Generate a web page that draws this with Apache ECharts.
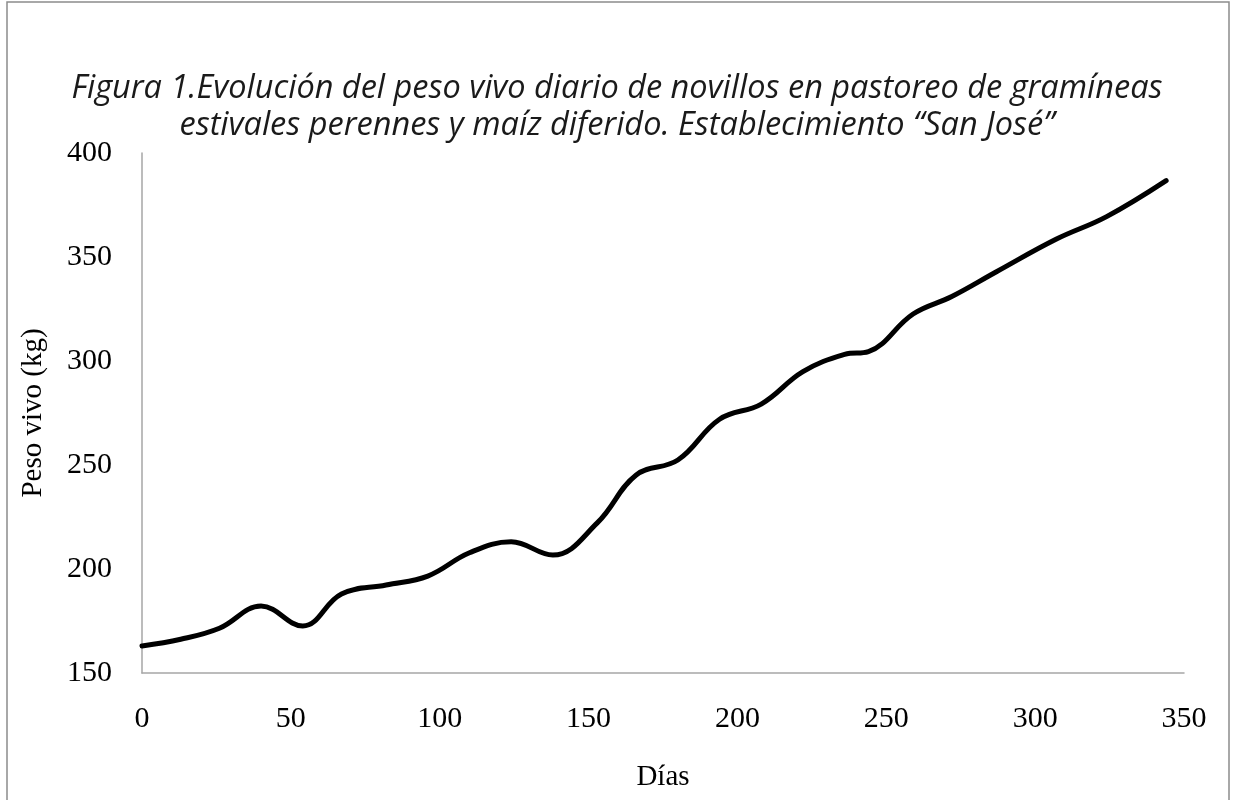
<!DOCTYPE html>
<html>
<head>
<meta charset="utf-8">
<title>Evolución del peso vivo</title>
<script src="https://cdn.jsdelivr.net/npm/echarts@6/dist/echarts.min.js"></script>
<style>
  html, body { margin: 0; padding: 0; background: #fff; }
  #chart { width: 1234px; height: 800px; }
</style>
</head>
<body>
<div id="chart"></div>
<script>
// days since start of grazing, live weight (kg)
const dias = [0, 13, 26, 40, 54, 67, 82, 96, 110, 124, 138, 153, 166, 180, 194, 208, 222, 236, 244, 259, 272, 287, 307, 324, 344];
const pesoVivo = [163, 166.2, 171.5, 182.2, 172.6, 188, 192.3, 196.6, 207.8, 213.1, 206.7, 222.3, 245.2, 252.4, 272, 279.3, 294.9, 303.2, 304.5, 322.6, 331, 342.9, 358.5, 369.4, 386.7];

const titulo = 'Figura 1.Evolución del peso vivo diario de novillos en pastoreo de gramíneas\nestivales perennes y maíz diferido. Establecimiento “San José”';

const serif = '"Liberation Serif", "Times New Roman", serif';
const chart = echarts.init(document.getElementById('chart'), null, { renderer: 'canvas' });

const option = {
  backgroundColor: '#fff',
  animation: false,
  title: {
    text: titulo,
    left: 'center',
    top: 65,
    textStyle: {
      fontFamily: '"Open Sans", "Noto Sans", sans-serif',
      fontStyle: 'italic',
      fontWeight: 'normal',
      fontSize: 32.5,
      lineHeight: 37,
      color: '#1a1a1a'
    }
  },
  graphic: [{
    type: 'rect',
    shape: { x: 7, y: 2, width: 1222, height: 810 },
    style: { fill: 'none', stroke: '#8c8c8c', lineWidth: 1.5 },
    silent: true
  }],
  grid: { left: 142, right: 50, top: 153, bottom: 127 },
  xAxis: {
    type: 'value',
    min: 0,
    max: 350,
    interval: 50,
    name: 'Días',
    nameLocation: 'middle',
    nameGap: 90,
    nameTextStyle: { fontFamily: serif, fontSize: 29, color: '#000' },
    axisLine: { lineStyle: { color: '#a6a6a6', width: 1.5 } },
    axisTick: { show: false },
    splitLine: { show: false },
    axisLabel: { fontFamily: serif, fontSize: 30, color: '#000', margin: 31 }
  },
  yAxis: {
    type: 'value',
    min: 150,
    max: 400,
    interval: 50,
    name: 'Peso vivo (kg)',
    nameLocation: 'middle',
    nameGap: 94,
    nameRotate: 90,
    nameTextStyle: { fontFamily: serif, fontSize: 29, color: '#000' },
    axisLine: { show: true, lineStyle: { color: '#a6a6a6', width: 1.5 } },
    axisTick: { show: false },
    splitLine: { show: false },
    axisLabel: { fontFamily: serif, fontSize: 30, color: '#000', margin: 30 }
  },
  series: [{
    type: 'line',
    data: dias.map((d, i) => [d, pesoVivo[i]]),
    smooth: 0.4,
    showSymbol: false,
    lineStyle: { color: '#000', width: 5, cap: 'round' }
  }]
};

chart.setOption(option);
window.addEventListener('resize', () => chart.resize());
</script>
</body>
</html>
